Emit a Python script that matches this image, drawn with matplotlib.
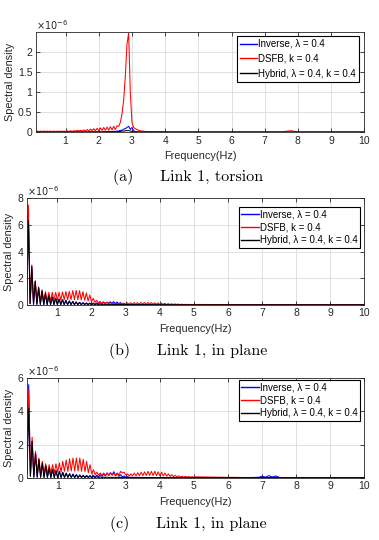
import numpy as np
import matplotlib
matplotlib.use("Agg")
import matplotlib.pyplot as plt

# ---------------- data (spectral density, units of 1e-6) ----------------
freq_main = np.round(np.arange(0.10, 5.051, 0.05), 2)          # 100 points
freq_tail = [5.3, 5.6, 6.0, 6.5, 6.9, 7.0, 7.1, 7.2, 7.3, 7.4,
             7.5, 7.6, 7.7, 7.8, 7.9, 8.0, 8.5, 9.0, 9.5, 10.0]
freq = np.concatenate([freq_main, freq_tail])

x_ticks = [1, 2, 3, 4, 5, 6, 7, 8, 9, 10]
labels = ["Inverse, λ = 0.4", "DSFB, k = 0.4", "Hybrid, λ = 0.4, k = 0.4"]
captions = ["(a)     Link 1, torsion", "(b)     Link 1, in plane", "(c)     Link 1, in plane"]

# Panel (a) torsion
inv_a = [.01, .01, .01, .01, .01, .01, .01, .01, .01, .01,
         .01, .01, .01, .01, .01, .01, .01, .01, .01, .01,
         .01, .01, .01, .01, .01, .01, .01, .01, .01, .01,
         .01, .01, .01, .015, .01, .015, .01, .015, .01, .015,
         .01, .02, .01, .02, .01, .02, .015, .025, .02, .03,
         .03, .05, .05, .08, .09, .12, .15, .07, .12, .04,
         .02, .015, .01, .01, .01, .01, .01, .01, .01, .01,
         .01, .01, .01, .01, .01, .01, .01, .01, .01, .01,
         .005, .005, .005, .005, .005, .005, .005, .005, .005, .005,
         .005, .005, .005, .005, .005, .005, .005, .005, .005, .005,
         .005, .005, .005, .005, .005, .005, .005, .005, .005, .005,
         .005, .005, .005, .005, .005, .005, .005, .005, .005, .005]
dsfb_a = [.02, .03, .02, .03, .02, .03, .02, .03, .02, .03,
          .02, .03, .02, .03, .02, .03, .02, .03, .02, .035,
          .02, .04, .02, .04, .03, .05, .03, .05, .03, .06,
          .03, .07, .03, .08, .04, .09, .04, .10, .04, .11,
          .05, .12, .05, .13, .05, .14, .06, .15, .07, .16,
          .15, .25, .45, .80, 1.4, 2.2, 2.48, 1.0, .25, .12,
          .09, .07, .05, .04, .03, .03, .02, .02, .02, .02,
          .015, .02, .015, .02, .015, .015, .015, .015, .015, .015,
          .01, .01, .01, .01, .01, .01, .01, .01, .01, .01,
          .01, .01, .01, .01, .01, .01, .01, .01, .01, .01,
          .01, .01, .01, .01, .01, .01, .01, .01, .01, .01,
          .01, .02, .03, .04, .02, .01, .01, .01, .01, .01]
hyb_a = [.005, .005, .005, .005, .005, .005, .005, .005, .005, .005,
         .005, .005, .005, .005, .005, .005, .005, .005, .005, .005,
         .005, .005, .005, .005, .005, .005, .005, .005, .005, .005,
         .005, .005, .005, .005, .005, .005, .005, .005, .005, .005,
         .005, .01, .005, .01, .01, .01, .01, .015, .01, .015,
         .02, .02, .03, .03, .04, .04, .045, .03, .02, .01,
         .005, .005, .005, .005, .005, .005, .005, .005, .005, .005,
         .005, .005, .005, .005, .005, .005, .005, .005, .005, .005,
         .005, .005, .005, .005, .005, .005, .005, .005, .005, .005,
         .005, .005, .005, .005, .005, .005, .005, .005, .005, .005,
         .005, .005, .005, .005, .005, .005, .005, .005, .005, .005,
         .005, .005, .005, .005, .005, .005, .005, .005, .005, .005]

# Panel (b) in plane
inv_b = [.3, 6.8, .1, 2.7, .05, 1.7, .05, 1.25, .05, 1.0,
         .04, .80, .04, .68, .04, .58, .04, .50, .04, .44,
         .04, .40, .04, .35, .04, .30, .04, .27, .04, .24,
         .04, .20, .04, .18, .04, .16, .05, .15, .05, .15,
         .06, .16, .08, .18, .10, .20, .12, .22, .14, .24,
         .14, .25, .12, .22, .10, .18, .06, .10, .04, .06,
         .03, .04, .03, .04, .03, .03, .03, .03, .03, .03,
         .02, .03, .02, .03, .02, .02, .02, .02, .02, .02,
         .02, .02, .02, .02, .02, .02, .02, .02, .02, .02,
         .02, .02, .02, .02, .02, .02, .02, .02, .02, .02,
         .02, .02, .02, .02, .02, .02, .02, .02, .02, .02,
         .02, .02, .02, .02, .02, .02, .02, .02, .02, .02]
dsfb_b = [1.0, 7.5, .2, 3.0, .2, 1.8, .25, 1.35, .3, 1.15,
          .30, 1.0, .30, .95, .30, .95, .35, .95, .35, .95,
          .35, .98, .40, 1.0, .40, 1.02, .40, 1.08, .40, 1.10,
          .40, 1.08, .38, 1.0, .35, .90, .30, .75, .25, .50,
          .20, .35, .15, .28, .12, .25, .10, .20, .08, .18,
          .07, .15, .06, .14, .06, .14, .06, .15, .06, .16,
          .06, .17, .06, .18, .06, .18, .06, .19, .06, .19,
          .06, .19, .06, .18, .06, .17, .05, .16, .05, .14,
          .05, .12, .04, .10, .04, .09, .04, .08, .04, .07,
          .03, .06, .03, .05, .03, .05, .03, .04, .03, .04,
          .04, .03, .03, .02, .02, .02, .02, .02, .02, .02,
          .02, .02, .02, .02, .02, .02, .02, .02, .02, .02]
hyb_b = [.3, 6.3, .1, 2.9, .05, 1.8, .05, 1.3, .05, 1.05,
         .03, .85, .03, .70, .03, .60, .03, .50, .03, .45,
         .03, .40, .03, .35, .03, .30, .03, .26, .02, .22,
         .02, .19, .02, .16, .02, .13, .02, .11, .02, .09,
         .02, .08, .02, .07, .02, .06, .02, .06, .02, .05,
         .02, .05, .02, .05, .02, .04, .02, .04, .02, .04,
         .02, .03, .02, .03, .02, .03, .02, .03, .02, .03,
         .02, .03, .02, .03, .02, .02, .02, .02, .02, .02,
         .02, .02, .02, .02, .02, .02, .02, .02, .02, .02,
         .02, .02, .02, .02, .02, .02, .02, .02, .02, .02,
         .02, .02, .02, .02, .02, .02, .02, .02, .02, .02,
         .02, .02, .02, .02, .02, .02, .02, .02, .02, .02]

# Panel (c) in plane
inv_c = [.3, 5.6, .1, 2.2, .05, 1.5, .05, 1.1, .05, .90,
         .04, .75, .04, .62, .04, .52, .04, .45, .04, .40,
         .04, .35, .04, .30, .04, .27, .04, .24, .04, .21,
         .04, .19, .04, .17, .04, .16, .05, .15, .05, .15,
         .06, .17, .08, .20, .10, .25, .12, .30, .15, .32,
         .20, .38, .15, .30, .10, .20, .06, .12, .04, .08,
         .03, .05, .03, .04, .03, .04, .03, .03, .03, .03,
         .02, .03, .02, .03, .02, .02, .02, .02, .02, .02,
         .02, .02, .02, .02, .02, .02, .02, .02, .02, .02,
         .02, .02, .02, .02, .02, .02, .02, .02, .02, .02,
         .02, .02, .02, .02, .04, .10, .05, .14, .06, .12,
         .04, .02, .02, .02, .02, .02, .02, .02, .02, .02]
dsfb_c = [1.0, 5.3, .2, 2.45, .2, 1.6, .25, 1.2, .25, 1.0,
          .25, .85, .25, .80, .30, .80, .30, .85, .35, .90,
          .35, 1.0, .40, 1.08, .40, 1.15, .42, 1.2, .42, 1.2,
          .42, 1.2, .40, 1.12, .38, 1.0, .32, .80, .25, .50,
          .20, .35, .18, .30, .15, .30, .15, .30, .15, .30,
          .15, .30, .12, .28, .18, .40, .30, .35, .18, .25,
          .12, .25, .12, .30, .12, .32, .14, .35, .14, .37,
          .15, .40, .15, .40, .15, .40, .14, .37, .13, .35,
          .12, .30, .10, .25, .09, .20, .08, .16, .07, .13,
          .06, .11, .05, .10, .05, .09, .04, .08, .04, .07,
          .06, .05, .04, .03, .03, .03, .03, .03, .03, .03,
          .03, .03, .03, .03, .03, .03, .03, .03, .03, .03]
hyb_c = [.3, 4.2, .1, 2.2, .05, 1.45, .05, 1.1, .04, .88,
         .03, .72, .03, .60, .03, .50, .03, .43, .03, .37,
         .03, .32, .03, .28, .03, .24, .03, .21, .02, .18,
         .02, .16, .02, .14, .02, .12, .02, .10, .02, .09,
         .02, .08, .02, .07, .02, .06, .02, .06, .02, .05,
         .02, .05, .02, .05, .02, .04, .02, .04, .02, .04,
         .02, .03, .02, .03, .02, .03, .02, .03, .02, .03,
         .02, .03, .02, .03, .02, .02, .02, .02, .02, .02,
         .02, .02, .02, .02, .02, .02, .02, .02, .02, .02,
         .02, .02, .02, .02, .02, .02, .02, .02, .02, .02,
         .02, .02, .02, .02, .02, .02, .02, .02, .02, .02,
         .02, .02, .02, .02, .02, .02, .02, .02, .02, .02]

y_limits = [2.5, 8, 6]
y_ticks = [[0, 0.5, 1, 1.5, 2], [0, 2, 4, 6, 8], [0, 2, 4, 6]]
y_ticklabels = [["0", "0.5", "1", "1.5", "2"], ["0", "2", "4", "6", "8"], ["0", "2", "4", "6"]]
panels = [(inv_a, dsfb_a, hyb_a), (inv_b, dsfb_b, hyb_b), (inv_c, dsfb_c, hyb_c)]

# ---------------- layout ----------------
W, H = 379, 540
plt.rcParams['font.family'] = ['Liberation Sans', 'DejaVu Sans']
fig = plt.figure(figsize=(W / 100, H / 100), dpi=100)

def px_rect(l, t, r, b):
    return [l / W, 1 - b / H, (r - l) / W, (b - t) / H]

rects = [px_rect(35.7, 32.3, 364.3, 132.3),
         px_rect(26.7, 198.3, 364.3, 305.0),
         px_rect(27.0, 378.0, 364.3, 478.0)]
legend_boxes = [(244, 36, 359, 82), (241, 207, 360, 245), (241, 380, 360, 418)]
legend_pads = [0.3, 0.25, 0.25]
legend_spacing = [0.5, 0.3, 0.3]
caption_y = [177, 351, 524]
ylabel_right = 14.5
colors = ['#0000ff', '#ff0000', '#000000']

for i, (rect, series) in enumerate(zip(rects, panels)):
    ax = fig.add_axes(rect)
    lines = []
    for vals, c, lab in zip(series, colors, labels):
        assert len(vals) == len(freq)
        ln, = ax.plot(freq, vals, color=c, lw=0.75, label=lab)
        lines.append(ln)
    ax.set_xlim(0.1, 10)
    ax.set_ylim(0, y_limits[i])
    ax.set_xticks(x_ticks)
    ax.set_xticklabels([str(t) for t in x_ticks])
    ax.set_yticks(y_ticks[i])
    ax.set_yticklabels(y_ticklabels[i])
    ax.grid(True, color='#dcdcdc', lw=0.6)
    ax.set_axisbelow(True)
    ax.tick_params(direction='in', length=3, width=0.6, top=True, right=True,
                   labelsize=7.5, pad=2.5, colors='#262626')
    for s in ax.spines.values():
        s.set_color('#262626')
        s.set_linewidth(0.6)
    ax.set_xlabel("Frequency(Hz)", fontsize=7.8, labelpad=4, color='#262626')
    ax.set_ylabel("Spectral density", fontsize=7.8, color='#262626')
    axl = rect[0] * W
    axw = rect[2] * W
    ax.yaxis.set_label_coords((ylabel_right - axl) / axw, 0.5)
    ax.text(0.0, 1.0, r'$\times10^{-6}$', transform=ax.transAxes, fontsize=7,
            ha='left', va='bottom', color='#262626')
    # legend
    lb = legend_boxes[i]
    axt = (1 - rect[1] - rect[3]) * H
    axh = rect[3] * H
    leg = ax.legend(handles=lines, loc='upper right',
                    bbox_to_anchor=((lb[2] - axl) / axw, 1 - (lb[1] - axt) / axh),
                    fontsize=7, frameon=True, fancybox=False, framealpha=1,
                    edgecolor='black', handlelength=1.8, handletextpad=0.1,
                    borderpad=legend_pads[i], labelspacing=legend_spacing[i],
                    borderaxespad=0)
    leg.get_frame().set_linewidth(0.8)
    for h in leg.get_lines():
        h.set_linewidth(1.0)
    fig.text(188 / W, 1 - caption_y[i] / H, captions[i], ha='center', va='center',
             fontsize=11.5, family='cmr10')

fig.savefig("out.png", dpi=100)
